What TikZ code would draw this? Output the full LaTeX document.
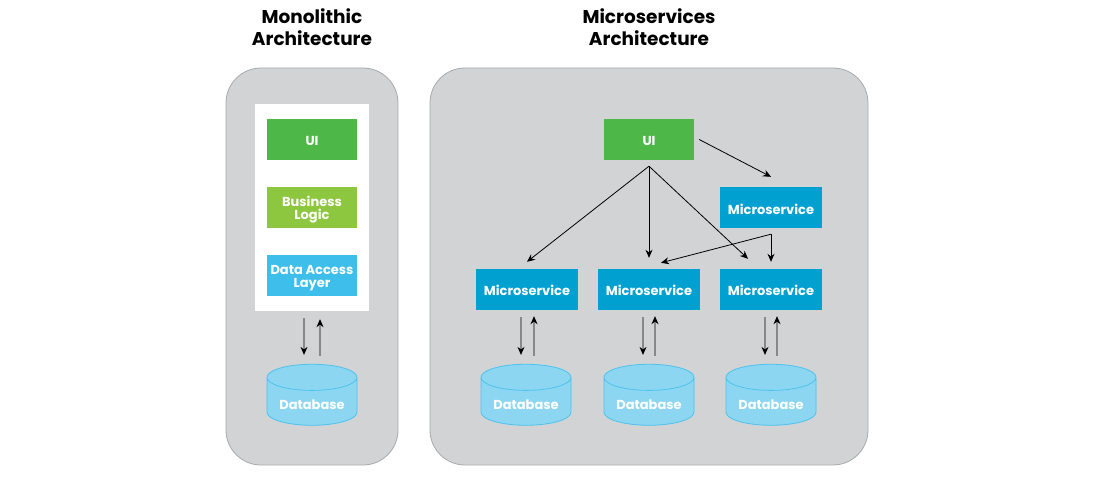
\documentclass[tikz,border=0pt]{standalone}
\usepackage{fontspec}
\setmainfont{Poppins}
\usetikzlibrary{shapes.geometric,arrows.meta,calc}
\definecolor{panelgray}{HTML}{D1D3D4}
\definecolor{panelline}{HTML}{A7A9AC}
\definecolor{uigreen}{HTML}{4DB848}
\definecolor{logicgreen}{HTML}{8DC63F}
\definecolor{dalblue}{HTML}{3DBEEB}
\definecolor{msblue}{HTML}{00A0D0}
\definecolor{dbfill}{HTML}{8DD6F1}
\definecolor{dbline}{HTML}{4DC3EE}
\newcommand{\pad}[1]{\rule{0pt}{#1}}
\tikzset{
  x=1pt,y=-1pt,
  panel/.style={draw=panelline,fill=panelgray,line width=0.8pt,rounded corners=35pt,minimum height=397pt},
  whitebox/.style={fill=white,minimum width=114pt,minimum height=207pt,inner sep=0pt},
  block/.style={text=white,font=\bfseries\fontsize{13}{14}\selectfont,align=center,inner sep=0pt,minimum height=41pt},
  uibox/.style={block,fill=uigreen,minimum width=90pt},
  logicbox/.style={block,fill=logicgreen,minimum width=90pt},
  dalbox/.style={block,fill=dalblue,minimum width=90pt},
  msbox/.style={block,fill=msblue,minimum width=102pt},
  dbase/.style={cylinder,shape border rotate=90,aspect=0.4,draw=dbline,fill=dbfill,cylinder uses custom fill,
    cylinder body fill=dbfill,cylinder end fill=dbfill,line width=0.8pt,minimum width=90pt,minimum height=61pt,inner sep=0pt,
    text=white,font=\bfseries\fontsize{13}{14}\selectfont},
  title/.style={font=\bfseries\fontsize{18.5}{22}\selectfont,align=center,text=black},
  link/.style={draw=black,line width=0.8pt,-{Stealth[length=8pt,width=7pt]}},
}
\begin{document}
\begin{tikzpicture}
\useasboundingbox (0,0) rectangle (1100,500);
\node[title] (t1) at (312,27) {Monolithic\\Architecture};
\node[title] (t2) at (649,27) {Microservices\\Architecture};
\node[panel,minimum width=172pt] (p1) at (312,266.5) {};
\node[panel,minimum width=438pt] (p2) at (649,266.5) {};
\node[whitebox] (w) at (312,207.5) {};
\node[uibox] (ui1) at (312,139.5) {\pad{11.5pt}UI};
\node[logicbox] (bl) at (312,207.5) {\pad{14pt}Business\\[-1pt]Logic};
\node[dalbox] (dal) at (312,275.5) {\pad{14.5pt}Data Access\\[-1pt]Layer};
\node[dbase] (db1) at (312,401.5) {\pad{16pt}Database};
\node[uibox] (ui2) at (649,139.5) {\pad{11.5pt}UI};
\node[msbox] (mt) at (771,207.5) {\pad{15pt}Microservice};
\node[msbox] (m1) at (527,289.5) {\pad{12pt}Microservice};
\node[msbox] (m2) at (649,289.5) {\pad{12pt}Microservice};
\node[msbox] (m3) at (771,289.5) {\pad{12pt}Microservice};
\node[dbase] (db2) at (526,401.5) {\pad{16pt}Database};
\node[dbase] (db3) at (649,401.5) {\pad{16pt}Database};
\node[dbase] (db4) at (771,401.5) {\pad{16pt}Database};
% monolith
\draw[link] ($(w.south)+(-8,7)$) -- ($(db1.north)+(-8,-9)$);
\draw[link] ($(db1.north)+(8,-8)$) -- ($(w.south)+(8,8)$);
% microservices to databases
\draw[link] ($(m1.south)+(-6,7)$) -- ($(db2.north)+(-5,-9)$);
\draw[link] ($(db2.north)+(8,-8)$) -- ($(m1.south)+(7,6)$);
\draw[link] ($(m2.south)+(-6,7)$) -- ($(db3.north)+(-6,-9)$);
\draw[link] ($(db3.north)+(6,-8)$) -- ($(m2.south)+(6,6)$);
\draw[link] ($(m3.south)+(-6,7)$) -- ($(db4.north)+(-6,-9)$);
\draw[link] ($(db4.north)+(6,-8)$) -- ($(m3.south)+(6,6)$);
% UI fan
\coordinate (uis) at ($(ui2.south)+(0,6)$);
\draw[link] (uis) -- ($(m1.north)+(0,-7)$);
\draw[link] (uis) -- ($(m2.north)+(0,-11)$);
\draw[link] (uis) -- ($(m3.north)+(-23,-10)$);
\draw[link] ($(ui2.east)+(5,0)$) -- ($(mt.north)+(0,-10)$);
% top microservice
\coordinate (mts) at ($(mt.south)+(0,6)$);
\draw[link] (mts) -- ($(m3.north)+(0,-7)$);
\draw[link] (mts) -- ($(m2.north)+(12,-6)$);
\end{tikzpicture}
\end{document}
